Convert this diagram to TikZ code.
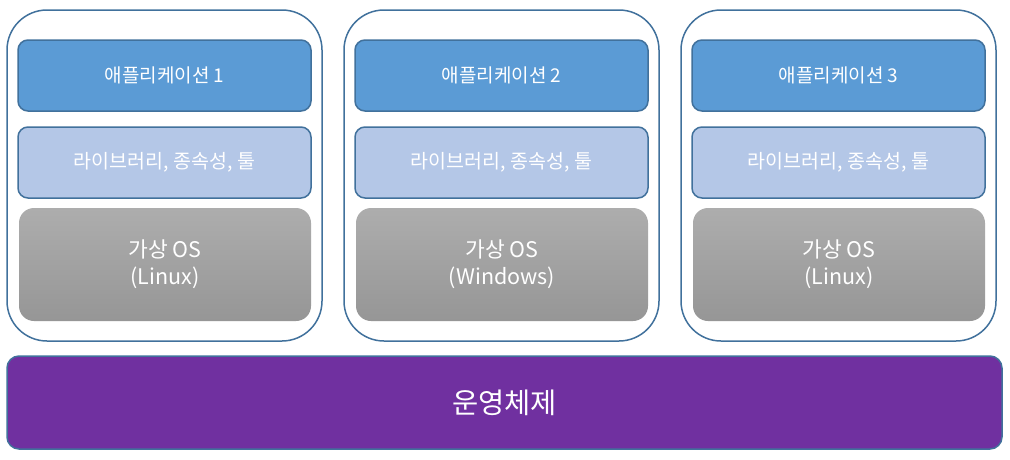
\documentclass[tikz,border=0pt]{standalone}
\usepackage{fontspec}
\setmainfont{Noto Sans CJK KR}
\definecolor{edgeblue}{HTML}{41719C}
\definecolor{appblue}{HTML}{5B9BD5}
\definecolor{libblue}{HTML}{B4C7E7}
\definecolor{ospurple}{HTML}{7030A0}
\definecolor{graytop}{HTML}{ADADAD}
\definecolor{graybot}{HTML}{969696}
\tikzset{
  container/.style={draw=edgeblue, line width=1.5pt, fill=white, rounded corners=40pt, minimum width=315pt, minimum height=331pt, inner sep=0pt},
  appbox/.style={draw=edgeblue, line width=1.5pt, fill=appblue, rounded corners=10pt, minimum width=293pt, minimum height=71pt, inner sep=0pt, text=white, font=\fontsize{19}{22}\selectfont},
  libbox/.style={draw=edgeblue, line width=1.5pt, fill=libblue, rounded corners=10pt, minimum width=293pt, minimum height=71pt, inner sep=0pt, text=white, font=\fontsize{19.5}{22}\selectfont},
  osbox/.style={rounded corners=15pt, top color=graytop, bottom color=graybot, minimum width=292pt, minimum height=113pt, inner sep=0pt, text=white, align=center, font=\fontsize{21.5}{27}\selectfont},
  hostbox/.style={draw=edgeblue, line width=1.5pt, fill=ospurple, rounded corners=12pt, minimum width=995pt, minimum height=93pt, inner sep=0pt, text=white, font=\fontsize{28.5}{30}\selectfont}
}
\begin{document}
\begin{tikzpicture}[x=1pt,y=-1pt]
\useasboundingbox (0,0) rectangle (1010,459);
\node[container] (c1) at (164.5,175.5) {};
\node[container] (c2) at (501.5,175.5) {};
\node[container] (c3) at (838.5,175.5) {};
\node[appbox] (a1) at (164.5,75.5) {애플리케이션 1};
\node[appbox] (a2) at (501.5,75.5) {애플리케이션 2};
\node[appbox] (a3) at (838.5,75.5) {애플리케이션 3};
\node[libbox] (l1) at (164.5,162.5) {라이브러리, 종속성, 툴};
\node[libbox] (l2) at (501.5,162.5) {라이브러리, 종속성, 툴};
\node[libbox] (l3) at (838.5,162.5) {라이브러리, 종속성, 툴};
\node[osbox] (g1) at (165,264.5) {가상 OS\\(Linux)};
\node[osbox] (g2) at (502,264.5) {가상 OS\\(Windows)};
\node[osbox] (g3) at (839,264.5) {가상 OS\\(Linux)};
\node[hostbox] (os) at (504.5,402.5) {운영체제};
\end{tikzpicture}
\end{document}
